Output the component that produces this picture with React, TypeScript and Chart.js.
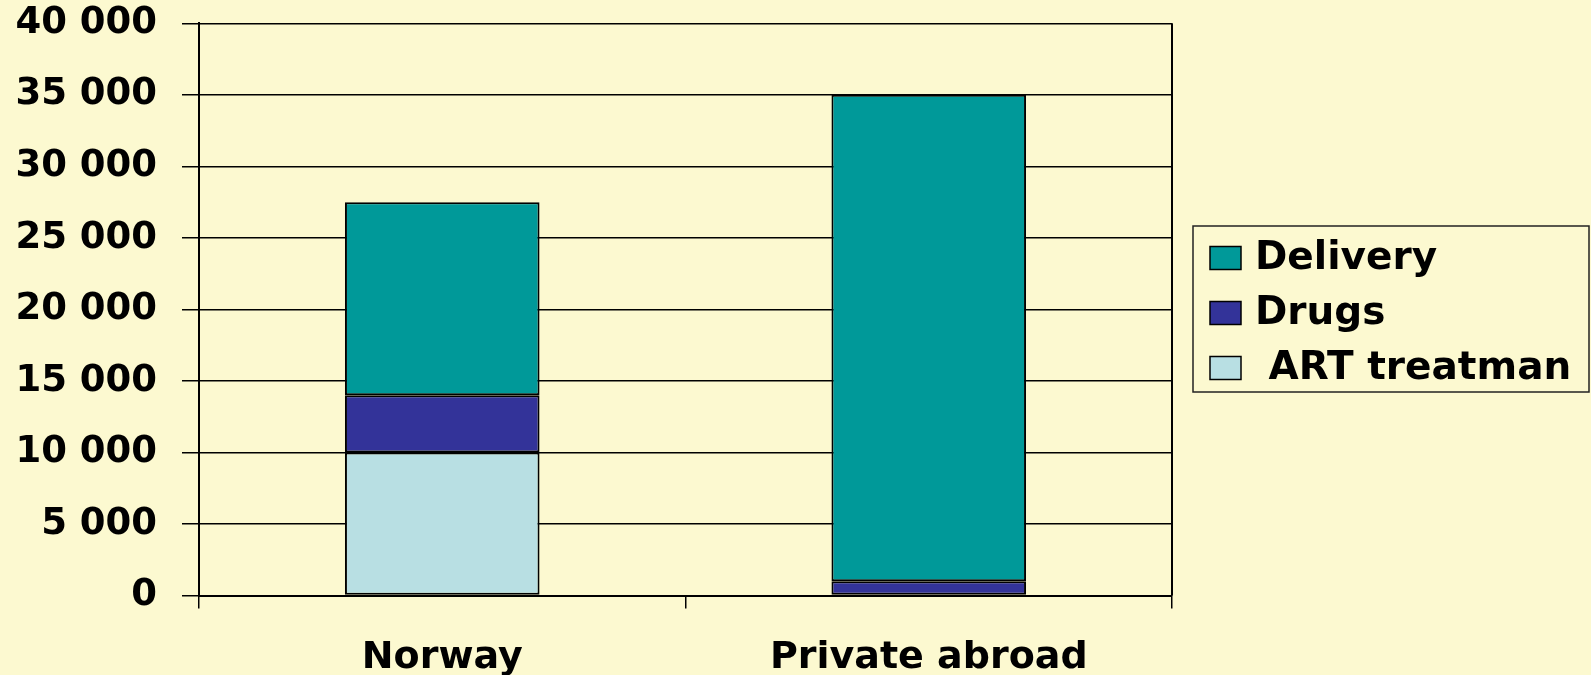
import React, { useEffect, useRef } from "react";
import { Chart, registerables } from "chart.js";

Chart.register(...registerables);

const categories = ["Norway", "Private abroad"];
const artTreatment = [10000, 0];
const drugs = [4000, 1000];
const delivery = [13500, 34000];
const seriesLabels = [" ART treatman", "Drugs", "Delivery"];
const seriesColors = ["#B8DFE3", "#333399", "#009999"];

const BG = "#FCF9D0";
const FONT = "'DejaVu Sans', 'Liberation Sans', sans-serif";

const fmt = (v: number) => String(v).replace(/\B(?=(\d{3})+(?!\d))/g, " ");

const boxLegend = {
  id: "boxLegend",
  afterDraw(chart: any) {
    const ctx = chart.ctx;
    const area = chart.chartArea;
    ctx.save();
    ctx.strokeStyle = "#000";
    ctx.lineWidth = 2;
    ctx.beginPath();
    ctx.moveTo(area.right, area.top);
    ctx.lineTo(area.right, area.bottom);
    ctx.stroke();
    const lx = 1193, ly = 226, lw = 396, lh = 166;
    ctx.lineWidth = 1.5;
    ctx.strokeStyle = "#222";
    ctx.strokeRect(lx, ly, lw, lh);
    const ds = chart.data.datasets.slice().reverse();
    ctx.font = `bold 39px ${FONT}`;
    ctx.textBaseline = "middle";
    ctx.textAlign = "left";
    ds.forEach((d: any, i: number) => {
      const cy = 258 + i * 55;
      ctx.fillStyle = d.backgroundColor;
      ctx.fillRect(1210, cy - 11.5, 31, 23);
      ctx.lineWidth = 1.5;
      ctx.strokeStyle = "#000";
      ctx.strokeRect(1210, cy - 11.5, 31, 23);
      ctx.fillStyle = "#000";
      ctx.fillText(d.label, 1255, cy + 1);
    });
    ctx.restore();
  },
};

export default function App() {
  const ref = useRef<HTMLCanvasElement | null>(null);
  useEffect(() => {
    document.body.style.background = BG;
    const values = [artTreatment, drugs, delivery];
    const chart = new Chart(ref.current as HTMLCanvasElement, {
      type: "bar",
      data: {
        labels: categories,
        datasets: values.map((v, i) => ({
          label: seriesLabels[i],
          data: v,
          backgroundColor: seriesColors[i],
          borderColor: "#000",
          borderWidth: 2,
          borderSkipped: false,
          barPercentage: 0.4,
          categoryPercentage: 1,
        })),
      },
      options: {
        animation: false,
        responsive: false,
        maintainAspectRatio: false,
        layout: { padding: { top: 23.3, right: 419, left: 0, bottom: 0 } },
        plugins: { legend: { display: false }, tooltip: { enabled: false } },
        scales: {
          x: {
            stacked: true,
            offset: true,
            grid: {
              offset: true,
              drawOnChartArea: false,
              drawTicks: true,
              tickLength: 13,
              color: "#000",
              lineWidth: 1.5,
            },
            border: { display: true, color: "#000", width: 2 },
            ticks: {
              color: "#000",
              padding: 27,
              font: { family: FONT, weight: "bold", size: 38 },
            },
            afterFit: (s: any) => {
              s.height = 79.4;
              s.paddingLeft = 0;
              s.paddingRight = 0;
            },
          },
          y: {
            stacked: true,
            min: 0,
            max: 40000,
            grid: {
              color: "#000",
              lineWidth: 1.5,
              drawTicks: true,
              tickLength: 17,
            },
            border: { display: true, color: "#000", width: 2 },
            ticks: {
              stepSize: 5000,
              color: "#000",
              padding: 25,
              font: { family: FONT, weight: "bold", size: 37 },
              callback: (v: any) => fmt(Number(v)),
            },
            afterFit: (s: any) => {
              s.width = 199;
              s.paddingTop = 0;
              s.paddingBottom = 0;
            },
          },
        },
      },
      plugins: [boxLegend],
    } as any);
    return () => chart.destroy();
  }, []);
  return (
    <div style={{ position: "fixed", left: 0, top: 0, width: 1591, height: 675, background: BG }}>
      <canvas ref={ref} width={1591} height={675} />
    </div>
  );
}
